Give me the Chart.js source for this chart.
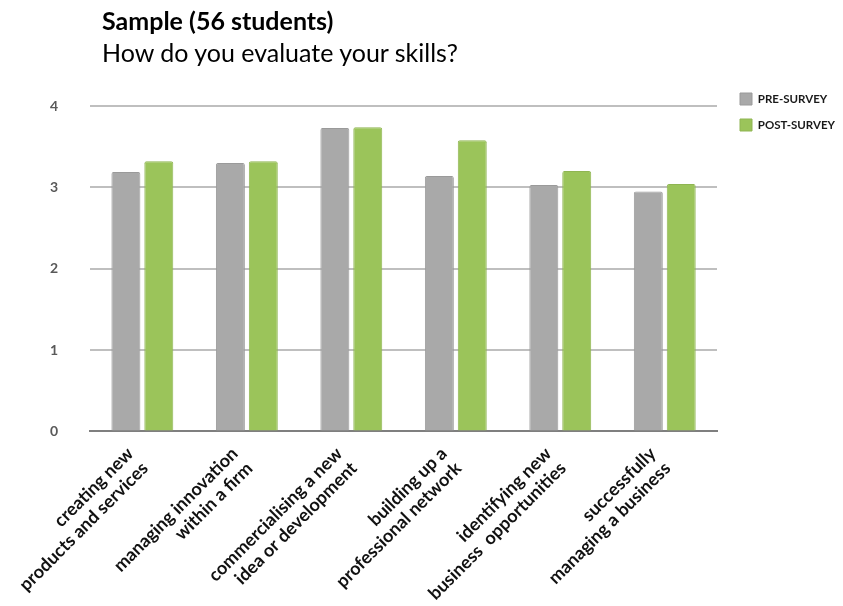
<!DOCTYPE html>
<html>
<head>
<meta charset="utf-8">
<script src="https://cdn.jsdelivr.net/npm/chart.js@4/dist/chart.umd.min.js"></script>
<style>
  body { margin: 0; background: #fff; }
  #wrap { position: relative; width: 843px; height: 606px; }
  #title { position: absolute; left: 102px; top: 4px; font-family: Lato, sans-serif; color: #000; }
  #title .main { font-weight: bold; font-size: 25px; line-height: 32px; }
  #title .sub { font-size: 25px; line-height: 32px; }
  canvas { position: absolute; left: 0; top: 0; }
</style>
</head>
<body>
<div id="wrap">
  <canvas id="chart" width="843" height="606"></canvas>
  <div id="title">
    <div class="main">Sample (56 students)</div>
    <div class="sub">How do you evaluate your skills?</div>
  </div>
</div>
<script>
// skills asked about in the survey
const skills = [
    ["creating new", "products and services"],
    ["managing innovation", "within a firm"],
    ["commercialising a new", "idea or development"],
    ["building up a", "professional network"],
    ["identifying new", "business  opportunities"],
    ["successfully", "managing a business"]
];
const preSurvey = [3.19, 3.30, 3.73, 3.14, 3.03, 2.95];
const postSurvey = [3.32, 3.32, 3.74, 3.58, 3.20, 3.04];
const yTicks = [0, 1, 2, 3, 4];

const barStyle = {
    borderWidth: 1,
    borderRadius: 2,
    barPercentage: 0.88,
    categoryPercentage: 0.63
};

new Chart(document.getElementById("chart"), {
    type: 'bar',
    data: {
        labels: skills,
        datasets: [
            Object.assign({
                label: 'PRE-SURVEY',
                data: preSurvey,
                backgroundColor: '#a9a9a9',
                borderColor: '#9a9a9a'
            }, barStyle),
            Object.assign({
                label: 'POST-SURVEY',
                data: postSurvey,
                backgroundColor: '#9bc45a',
                borderColor: '#8fb552'
            }, barStyle)
        ]
    },
    options: {
        responsive: false,
        animation: false,
        layout: { padding: { top: 79, left: 18, right: -2, bottom: -2 } },
        plugins: {
            tooltip: { enabled: false },
            // empty spacer so the plot starts below the legend top
            title: {
                display: true,
                text: '',
                fullSize: false,
                font: { size: 10, lineHeight: 1 },
                padding: { top: 17, bottom: 0 }
            },
            legend: {
                position: 'right',
                align: 'start',
                labels: {
                    boxWidth: 12,
                    boxHeight: 12,
                    padding: 14,
                    color: '#1a1a1a',
                    font: { family: 'Lato, sans-serif', size: 11.5, weight: 'bold' }
                }
            }
        },
        scales: {
            x: {
                grid: { display: false },
                border: { color: '#7f7f7f', width: 2 },
                ticks: {
                    minRotation: 45,
                    maxRotation: 45,
                    labelOffset: -12,
                    padding: 4,
                    color: '#111',
                    font: { family: 'Lato, sans-serif', size: 18, weight: 'bold', lineHeight: 1.15 }
                }
            },
            y: {
                min: 0,
                max: 4,
                afterBuildTicks: (axis) => { axis.ticks = yTicks.map(v => ({ value: v })); },
                border: { display: false },
                grid: { color: '#bfbfbf', lineWidth: 2, drawTicks: false },
                ticks: {
                    padding: 32,
                    color: '#595959',
                    font: { family: 'Lato, sans-serif', size: 14, weight: 'bold' }
                }
            },
            // invisible axis, only keeps a gap between plot and legend
            gap: {
                position: 'right',
                grid: { display: false, drawTicks: true, tickLength: 9 },
                border: { display: false },
                ticks: { display: false }
            }
        }
    }
});
</script>
</body>
</html>
